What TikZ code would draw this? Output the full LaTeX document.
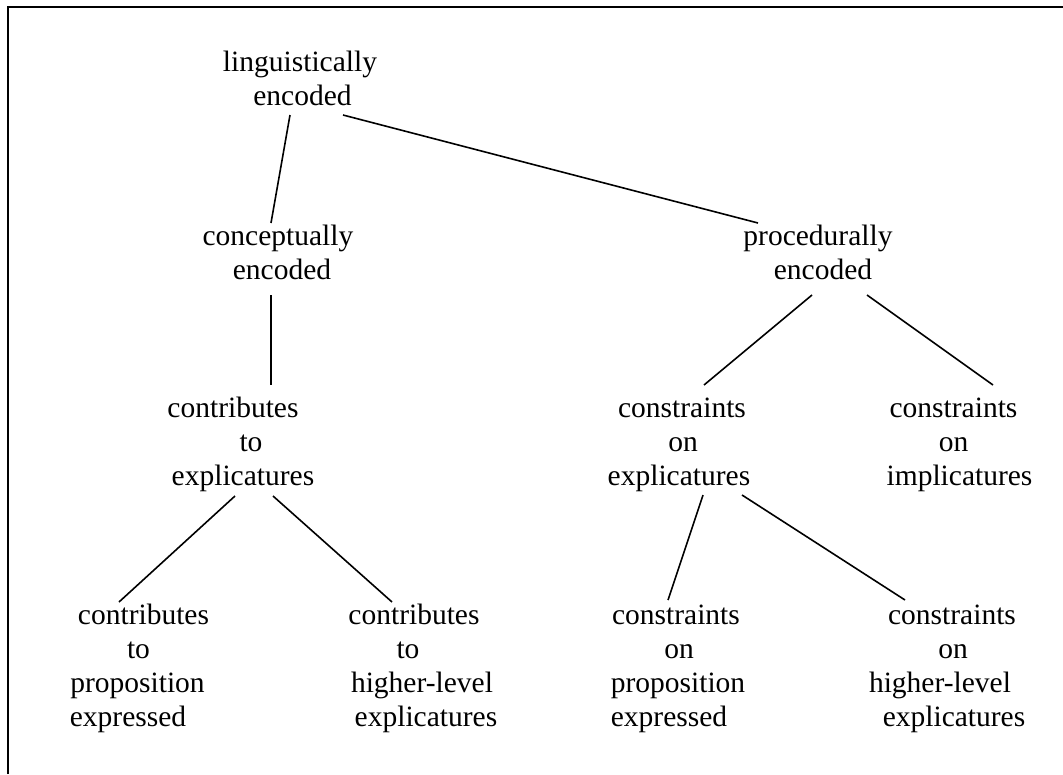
\documentclass[tikz,border=0pt]{standalone}
\usepackage{fontspec}
\setmainfont{Liberation Serif}
\usetikzlibrary{calc}
% one centred line of a label, moved sideways by #1 (pt)
\newcommand{\tline}[2]{\makebox[0pt]{\hspace*{\dimexpr 2\dimexpr #1pt\relax\relax}#2}}
\tikzset{
  label node/.style={anchor=base, align=center, inner sep=0pt,
    font=\fontsize{29.5}{34}\selectfont},
  branch/.style={line width=1.6pt},
  frame line/.style={line width=2pt}
}
\begin{document}
\begin{tikzpicture}[x=1pt, y=-1pt]
\useasboundingbox (0,0) rectangle (1063,774);
% outer frame (top and left edges)
\draw[frame line] (8,774) -- (8,7) -- (1063,7);

% nodes are placed at the baseline of their last line
% level 0
\node[label node] (L) at (300,105) {\tline{0}{linguistically}\\\tline{2.5}{encoded}};
% level 1
\node[label node] (CE) at (278,279) {\tline{0}{conceptually}\\\tline{4}{encoded}};
\node[label node] (PE) at (818,279) {\tline{0}{procedurally}\\\tline{5}{encoded}};
% level 2
\node[label node] (CX) at (242,485) {\tline{-9}{contributes}\\\tline{9}{to}\\\tline{1}{explicatures}};
\node[label node] (KX) at (682,485) {\tline{0}{constraints}\\\tline{1}{on}\\\tline{-3}{explicatures}};
\node[label node] (KI) at (955,485) {\tline{-1.5}{constraints}\\\tline{-1.5}{on}\\\tline{4.5}{implicatures}};
% level 3
\node[label node] (CP) at (138,726) {\tline{5.5}{contributes}\\\tline{0.5}{to}\\\tline{-0.5}{proposition}\\\tline{-10}{expressed}};
\node[label node] (CH) at (415,726) {\tline{-1}{contributes}\\\tline{-7}{to}\\\tline{7}{higher-level}\\\tline{11}{explicatures}};
\node[label node] (KP) at (677,726) {\tline{-1}{constraints}\\\tline{2}{on}\\\tline{1}{proposition}\\\tline{-8}{expressed}};
\node[label node] (KH) at (950,726) {\tline{2}{constraints}\\\tline{3}{on}\\\tline{-10}{higher-level}\\\tline{4}{explicatures}};

% branches
\draw[branch] ($(L.base)+(-10,10)$) -- ($(CE.base)+(-7,-56)$);
\draw[branch] ($(L.base)+(43,10)$) -- ($(PE.base)+(-60,-56)$);
\draw[branch] ($(CE.base)+(-7,16)$) -- ($(CX.base)+(29,-100)$);
\draw[branch] ($(PE.base)+(-6,16)$) -- ($(KX.base)+(22,-100)$);
\draw[branch] ($(PE.base)+(49,16)$) -- ($(KI.base)+(38,-100)$);
\draw[branch] ($(CX.base)+(-7,11)$) -- ($(CP.base)+(-19,-124)$);
\draw[branch] ($(CX.base)+(31,11)$) -- ($(CH.base)+(-23,-124)$);
\draw[branch] ($(KX.base)+(21,10)$) -- ($(KP.base)+(-9,-126)$);
\draw[branch] ($(KX.base)+(60,10)$) -- ($(KH.base)+(-45,-126)$);
\end{tikzpicture}
\end{document}
